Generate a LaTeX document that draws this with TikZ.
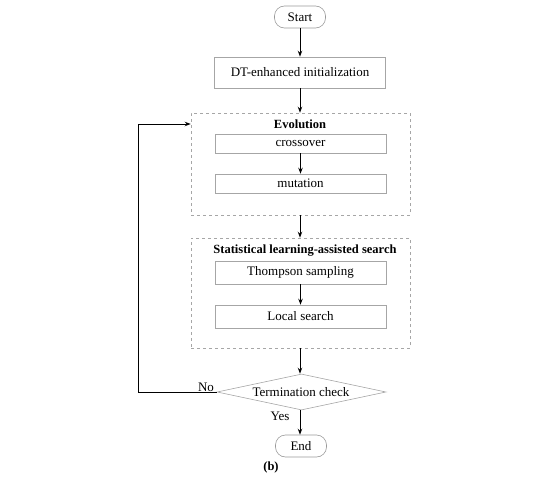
\documentclass[tikz,border=0pt]{standalone}
\usepackage{fontspec}
\setmainfont{Liberation Serif}
\usetikzlibrary{shapes.geometric,arrows.meta}
\begin{document}
\begin{tikzpicture}[x=1pt,y=-1pt,
  every node/.style={font=\fontsize{13}{15}\selectfont},
  proc/.style={draw=gray!70,line width=0.6pt,minimum width=171pt,inner sep=0pt},
  term/.style={draw=gray!80,line width=0.6pt,rounded corners=10pt,minimum width=51pt,minimum height=22pt,inner sep=0pt},
  grp/.style={draw=gray!70,dashed,line width=0.6pt},
  arr/.style={-{Stealth[length=6pt,width=4.5pt]},line width=1pt,black},
  lbl/.style={font=\bfseries\fontsize{12.5}{14}\selectfont}]
\useasboundingbox (0,0) rectangle (550,479);
\node[term] (start) at (300,17) {Start};
\node[proc,minimum height=31pt] (init) at (300,72.5) {DT-enhanced initialization};
\node[grp,minimum width=219pt,minimum height=102pt,inner sep=0pt] (evo) at (300.5,164) {};
\node[lbl] (evot) at (300,124) {Evolution};
\node[proc,minimum height=19pt] (cross) at (300.5,143.5) {crossover};
\node[proc,minimum height=19pt] (mut) at (300.5,183.5) {mutation};
\node[grp,minimum width=219pt,minimum height=110pt,inner sep=0pt] (sls) at (300.5,293) {};
\node[lbl] (slst) at (305,251) {Statistical learning-assisted search};
\node[proc,minimum height=23pt] (thom) at (300.5,272.5) {Thompson sampling};
\node[proc,minimum height=23pt] (local) at (300.5,316.5) {Local search};
\node[diamond,draw=gray!70,line width=0.6pt,aspect=4.7,minimum width=169pt,minimum height=36pt,inner sep=0pt] (term) at (301.5,392) {};
\node (termt) at (301,392) {Termination check};
\node[term] (end) at (301,446) {End};
\node (no) at (206,387) {No};
\node (yes) at (280,416) {Yes};
\node[font=\bfseries\fontsize{12.5}{14}\selectfont] (b) at (271,467) {(b)};
\draw[arr] (start) -- (init);
\draw[arr] (init) -- (init|-evo.north);
\draw[arr] (cross) -- (mut);
\draw[arr] (evo.south-|init) -- (init|-sls.north);
\draw[arr] (thom) -- (local);
\draw[arr] (sls.south-|init) -- (init|-term.north);
\draw[arr] (term.south-|init) -- (init|-end.north);
\coordinate (c1) at (138,392);
\coordinate (c2) at (138,124);
\draw[arr] (term.west) -- (c1) -- (c2) -- (evo.west|-c2);
\end{tikzpicture}
\end{document}
